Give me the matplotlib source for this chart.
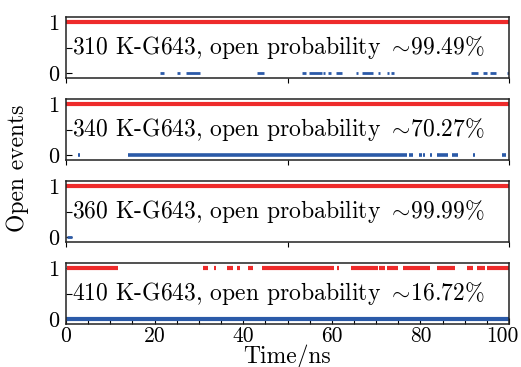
import matplotlib
matplotlib.use("Agg")
import matplotlib.pyplot as plt
from matplotlib.ticker import MultipleLocator
from matplotlib.transforms import ScaledTranslation

plt.rcParams["font.family"] = ["cmr10", "DejaVu Serif"]
plt.rcParams["mathtext.fontset"] = "cm"
plt.rcParams["axes.formatter.use_mathtext"] = True
plt.rcParams["font.size"] = 16

RED = "#ee2b2b"
BLUE = "#2b5aa8"

# Trajectory labels (temperature, open probability)
labels = [
    "310 K-G643, open probability $\\sim\\!$99.49%",
    "340 K-G643, open probability $\\sim\\!$70.27%",
    "360 K-G643, open probability $\\sim\\!$99.99%",
    "410 K-G643, open probability $\\sim\\!$16.72%",
]

# Time windows (ns) where the gate is open (state 1)
open_310 = [(0.0, 100.0)]
open_340 = [(0.0, 100.0)]
open_360 = [(0.0, 100.0)]
open_410 = [(0.2, 11.7), (30.9, 32.1), (33.4, 33.9), (36.3, 37.7), (38.6, 39.3),
            (41.1, 42.2), (44.2, 60.5), (61.2, 61.6), (64.3, 70.4), (70.7, 72.0),
            (72.5, 74.9), (76.1, 82.2), (83.7, 87.8), (90.5, 91.9), (92.8, 94.6),
            (95.0, 100.0)]

# Time windows (ns) where the gate is closed (state 0)
closed_310 = [(21.2, 22.1), (25.1, 25.7), (27.1, 30.2), (43.1, 44.7), (53.3, 54.2),
              (54.9, 57.8), (58.0, 58.5), (59.1, 59.8), (60.9, 62.3), (65.5, 65.9),
              (66.8, 69.3), (70.4, 70.9), (72.5, 72.9), (73.4, 74.0), (91.4, 93.0),
              (94.1, 95.0), (95.7, 97.1), (99.5, 100.0)]
closed_340 = [(2.7, 3.2), (14.0, 77.0), (77.4, 78.3), (79.7, 80.4), (80.6, 81.0),
              (82.2, 82.6), (83.7, 86.2), (87.1, 88.5), (91.9, 92.3), (98.4, 99.3)]
closed_360 = [(0.2, 1.3)]
closed_410 = [(0.0, 100.0)]

time_ticks = [0, 20, 40, 60, 80, 100]
time_labels = ["0", "20", "40", "60", "80", "100"]

open_sets = [open_310, open_340, open_360, open_410]
closed_sets = [closed_310, closed_340, closed_360, closed_410]
closed_widths = [2.0, 2.6, 2.0, 3.0]

W, H = 521, 367
fig = plt.figure(figsize=(W / 100, H / 100), dpi=100)

left_px, right_px = 66, 509
tops = [17, 99, 181, 263]
panel_h = 61

axes = []
for i, top in enumerate(tops):
    ax = fig.add_axes([left_px / W, 1 - (top + panel_h) / H,
                       (right_px - left_px) / W, panel_h / H])
    axes.append(ax)

    for (a, b) in open_sets[i]:
        ln = ax.hlines(1, a, b, color=RED, linewidth=3.0)
        ln.set_capstyle("butt")
    for (a, b) in closed_sets[i]:
        ln = ax.hlines(0, a, b, color=BLUE, linewidth=closed_widths[i])
        ln.set_capstyle("butt")

    ax.set_xlim(0, 100)
    ax.set_ylim(-0.1, 1.1)
    ax.set_yticks([0, 0.5, 1])
    ax.set_yticklabels(["0", "", "1"])
    ax.tick_params(axis="y", direction="in", length=4, width=0.8, pad=5,
                   left=True, right=False, labelsize=16)
    for s in ax.spines.values():
        s.set_linewidth(1.1)
        s.set_color("#222222")

    ax.text(1.3, 0.5, labels[i], ha="left", va="center", fontsize=17)

    if i < 3:
        ax.set_xticks([0, 50, 100])
        ax.tick_params(axis="x", direction="out", length=3.5, width=0.8,
                       labelbottom=False)
    else:
        ax.set_xticks(time_ticks)
        ax.set_xticklabels(time_labels)
        ax.xaxis.set_minor_locator(MultipleLocator(5))
        ax.tick_params(axis="x", which="both", direction="in", length=4,
                       width=0.8, pad=2, labelsize=15.5)
        ax.set_xlabel("Time/ns", labelpad=-1.5, fontsize=17)

fig.text(18 / W, 1 - 168 / H, "Open events", rotation=90, ha="center",
         va="center", fontsize=17)

# keep the right-most time label inside the canvas
fig.canvas.draw()
shift = ScaledTranslation(-7 / 100, 0, fig.dpi_scale_trans)
for lab in axes[-1].get_xticklabels():
    if lab.get_text() == "100":
        lab.set_transform(lab.get_transform() + shift)

fig.savefig("out.png", dpi=100)
